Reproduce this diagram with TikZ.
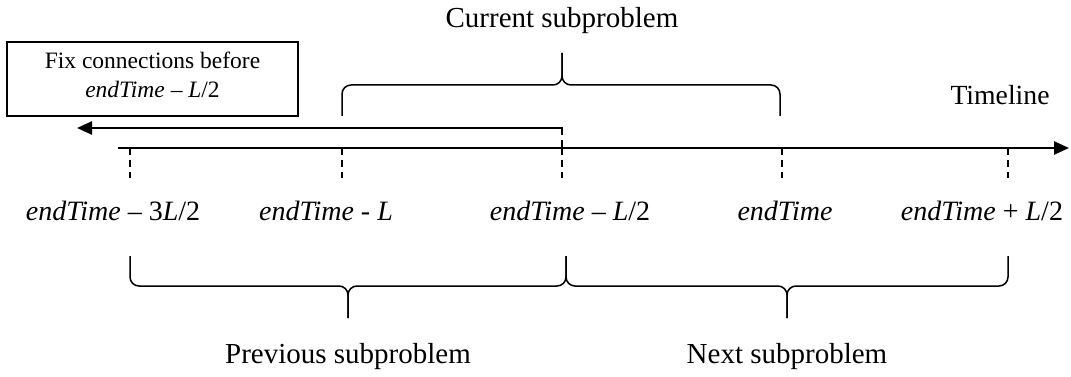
\documentclass[tikz,border=0pt]{standalone}
\usepackage{fontspec}
\setmainfont{Liberation Serif}
\usetikzlibrary{arrows.meta,positioning,calc}
\newcommand{\et}{\textit{endTime}}

\begin{document}
\begin{tikzpicture}[x=1pt, y=-1pt,
  big/.style={font=\fontsize{29}{34}\selectfont, inner sep=0pt, anchor=base},
  tl/.style={font=\fontsize{28}{34}\selectfont, inner sep=0pt, anchor=base},
  fixbox/.style={draw, line width=2pt, minimum width=291pt, minimum height=74pt,
                 inner sep=0pt},
  boxtxt/.style={font=\fontsize{23.5}{29}\selectfont, align=center, inner sep=0pt},
  arw/.style={-{Triangle[length=15pt,width=13pt]}, line width=2.4pt},
  tick/.style={dash pattern=on 7pt off 5pt, line width=1.6pt},
  brc/.style={line width=1.5pt, rounded corners=9pt}]

\useasboundingbox (0,0) rectangle (1071,377);

% timeline
\coordinate (tl0) at (118,148);
\coordinate (tl1) at (1069,148);
\draw[arw] (tl0) -- (tl1);
\node[big, font=\fontsize{27.7}{34}\selectfont] (tline) at (1000,105) {Timeline};

% ticks and their labels
\foreach \x/\lx/\txt [count=\i] in {130/113/{\et{} – 3\textit{L}/2},
    342/326/{\et{} - \textit{L}}, 562/570/{\et{} – \textit{L}/2},
    782/785/{\et}, 1008/982/{\et{} + \textit{L}/2}} {
  \coordinate (k\i) at (\x,148);
  \draw[tick] (k\i) -- ++(0,30);
  \node[tl] (lab\i) at (\lx,220) {\txt};
}

% fix box and the backward arrow
\node[fixbox] (fix) at (152.5,79) {};
\node[boxtxt] (fixtxt) at ([yshift=4.5pt]fix.center)
      {Fix connections before\\\et{} – \textit{L}/2};
\coordinate (fixR) at (562,128);
\coordinate (fixL) at (77,128);
\draw[arw] ([yshift=-5pt]fixR) -- (fixR) -- (fixL);
\draw[tick] (fixR) -- (k3);

% current subproblem
\draw[brc] (342,116) -- (342,85) -- (562,85) -- (562,53);
\draw[brc] (780,116) -- (780,85) -- (562,85) -- (562,53);
\node[big] (cur) at (562,28) {Current subproblem};

% previous and next subproblems
\foreach \a/\b/\txt/\nm in {130/566/Previous/prev, 566/1008/Next/next} {
  \draw[brc] (\a,256) -- (\a,286) -- ({(\a+\b)/2},286) -- ({(\a+\b)/2},318);
  \draw[brc] (\b,256) -- (\b,286) -- ({(\a+\b)/2},286) -- ({(\a+\b)/2},318);
  \node[big] (\nm) at ({(\a+\b)/2},363) {\txt{} subproblem};
}
\end{tikzpicture}
\end{document}
